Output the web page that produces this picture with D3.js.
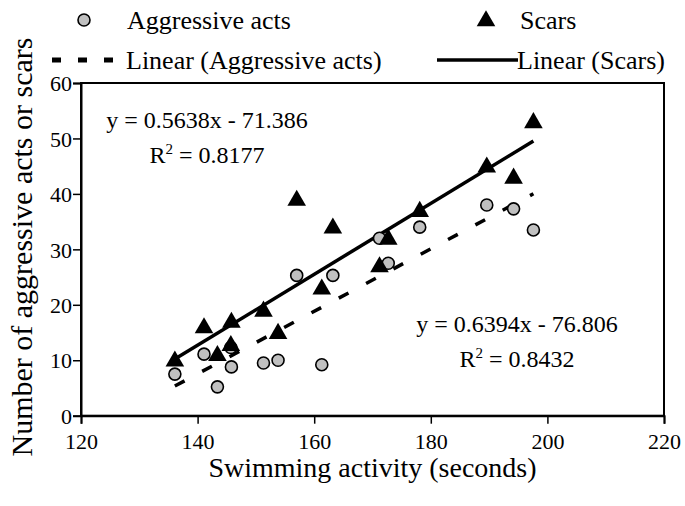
<!DOCTYPE html>
<html>
<head>
<meta charset="utf-8">
<script src="https://cdn.jsdelivr.net/npm/d3@7"></script>
<style>
  html, body { margin: 0; padding: 0; background: #fff; }
</style>
</head>
<body>
<svg id="chart" width="685" height="506"></svg>
<script>
// Swimming activity (seconds) per fish
const swimSeconds = [136.1, 141.1, 143.4, 145.7, 145.8, 151.3, 153.8, 157.0, 161.3, 163.2, 171.2, 172.7, 178.1, 189.6, 194.2, 197.6];
// Aggressive acts observed for each fish
const aggressiveActs = [7.5, 11.1, 5.2, 12.3, 8.8, 9.5, 10.0, 25.3, 9.2, 25.3, 32.0, 27.5, 34.0, 38.0, 37.3, 33.5];
// Scars counted for each fish
const scars = [10.0, 16.0, 11.0, 12.8, 17.0, 19.0, 15.0, 39.0, 23.0, 34.0, 27.0, 32.0, 37.0, 45.0, 43.0, 53.0];

// Linear trend coefficients (slope, intercept) and R²
const trendAggressive = { slope: 0.5638, intercept: -71.386, r2: 0.8177 };
const trendScars = { slope: 0.6394, intercept: -76.806, r2: 0.8432 };

const xTicks = [120, 140, 160, 180, 200, 220];
const yTicks = [0, 10, 20, 30, 40, 50, 60];

const FONT = "Times New Roman, Liberation Serif, Tinos, Nimbus Roman, FreeSerif, DejaVu Serif, serif";
const svg = d3.select("#chart").style("font-family", FONT);

const x = d3.scaleLinear().domain([120, 220]).range([81, 664]);
const y = d3.scaleLinear().domain([0, 60]).range([415.7, 83]);

// plot frame
svg.append("rect")
  .attr("x", x(120)).attr("y", y(60))
  .attr("width", x(220) - x(120)).attr("height", y(0) - y(60))
  .attr("fill", "none").attr("stroke", "#000").attr("stroke-width", 2);

// axes
const xAxis = d3.axisBottom(x).tickValues(xTicks).tickSize(8).tickPadding(4).tickFormat(d3.format("d"));
const yAxis = d3.axisLeft(y).tickValues(yTicks).tickSize(8).tickPadding(1).tickFormat(d3.format("d"));

const gx = svg.append("g").attr("transform", `translate(0,${y(0)})`).call(xAxis);
const gy = svg.append("g").attr("transform", `translate(${x(120)},0)`).call(yAxis);
[gx, gy].forEach(g => {
  g.attr("font-family", null).attr("font-size", null);
  g.select(".domain").attr("stroke-width", 2);
  g.selectAll(".tick line").attr("stroke-width", 1.5);
  g.selectAll(".tick text").attr("fill", "#000")
    .style("font-family", FONT).style("font-size", "22px");
});
gx.selectAll(".tick text").attr("dy", "0.95em");
gy.selectAll(".tick text").attr("dy", "0.35em");

// axis titles
svg.append("text")
  .attr("x", (x(120) + x(220)) / 2).attr("y", 477)
  .attr("text-anchor", "middle")
  .style("font-size", "28px")
  .text("Swimming activity (seconds)");

svg.append("text")
  .attr("transform", `translate(32,247) rotate(-90)`)
  .attr("text-anchor", "middle")
  .style("font-size", "30px")
  .text("Number of aggressive acts or scars");

// trend lines
const xExtent = d3.extent(swimSeconds);
const line = d3.line().x(d => x(d[0])).y(d => y(d[1]));
function trendPoints(t) {
  return xExtent.map(v => [v, t.slope * v + t.intercept]);
}

svg.append("path")
  .attr("d", line(trendPoints(trendAggressive)))
  .attr("fill", "none").attr("stroke", "#000")
  .attr("stroke-width", 3.5).attr("stroke-dasharray", "11,20");

svg.append("path")
  .attr("d", line(trendPoints(trendScars)))
  .attr("fill", "none").attr("stroke", "#000")
  .attr("stroke-width", 3.5);

// markers
const tri = d3.symbol().type(d3.symbolTriangle).size(150);

svg.append("g").selectAll("circle")
  .data(swimSeconds.map((s, i) => [s, aggressiveActs[i]]))
  .join("circle")
  .attr("cx", d => x(d[0])).attr("cy", d => y(d[1]))
  .attr("r", 6)
  .attr("fill", "#c0c0c0").attr("stroke", "#000").attr("stroke-width", 1.6);

svg.append("g").selectAll("path")
  .data(swimSeconds.map((s, i) => [s, scars[i]]))
  .join("path")
  .attr("d", tri)
  .attr("transform", d => `translate(${x(d[0])},${y(d[1]) + 1})`)
  .attr("fill", "#000");

// equation labels
function equation(g, cx, cy, t) {
  const sign = t.intercept < 0 ? " - " : " + ";
  g.append("text")
    .attr("x", cx).attr("y", cy)
    .attr("text-anchor", "middle")
    .style("font-size", "24px")
    .text(`y = ${t.slope.toFixed(4)}x${sign}${Math.abs(t.intercept).toFixed(3)}`);
  const r = g.append("text")
    .attr("x", cx).attr("y", cy + 35)
    .attr("text-anchor", "middle")
    .style("font-size", "24px");
  r.append("tspan").text("R");
  r.append("tspan").attr("dy", -9).style("font-size", "15px").text("2");
  r.append("tspan").attr("dy", 9).text(` = ${t.r2.toFixed(4)}`);
}
equation(svg.append("g"), 207, 128, trendAggressive);
equation(svg.append("g"), 517, 332, trendScars);

// legend
const lg = svg.append("g").style("font-size", "26px");
lg.append("circle").attr("cx", 84).attr("cy", 20).attr("r", 6)
  .attr("fill", "#c0c0c0").attr("stroke", "#000").attr("stroke-width", 1.6);
lg.append("text").attr("x", 127).attr("y", 29).text("Aggressive acts");
lg.append("path").attr("d", tri).attr("transform", "translate(486,21)").attr("fill", "#000");
lg.append("text").attr("x", 520).attr("y", 29).text("Scars");

lg.append("line").attr("x1", 52).attr("x2", 116).attr("y1", 60).attr("y2", 60)
  .attr("stroke", "#000").attr("stroke-width", 5).attr("stroke-dasharray", "9,17");
lg.append("text").attr("x", 126).attr("y", 69).text("Linear (Aggressive acts)");
lg.append("line").attr("x1", 437).attr("x2", 518).attr("y1", 60).attr("y2", 60)
  .attr("stroke", "#000").attr("stroke-width", 3.5);
lg.append("text").attr("x", 517).attr("y", 69).text("Linear (Scars)");
</script>
</body>
</html>
